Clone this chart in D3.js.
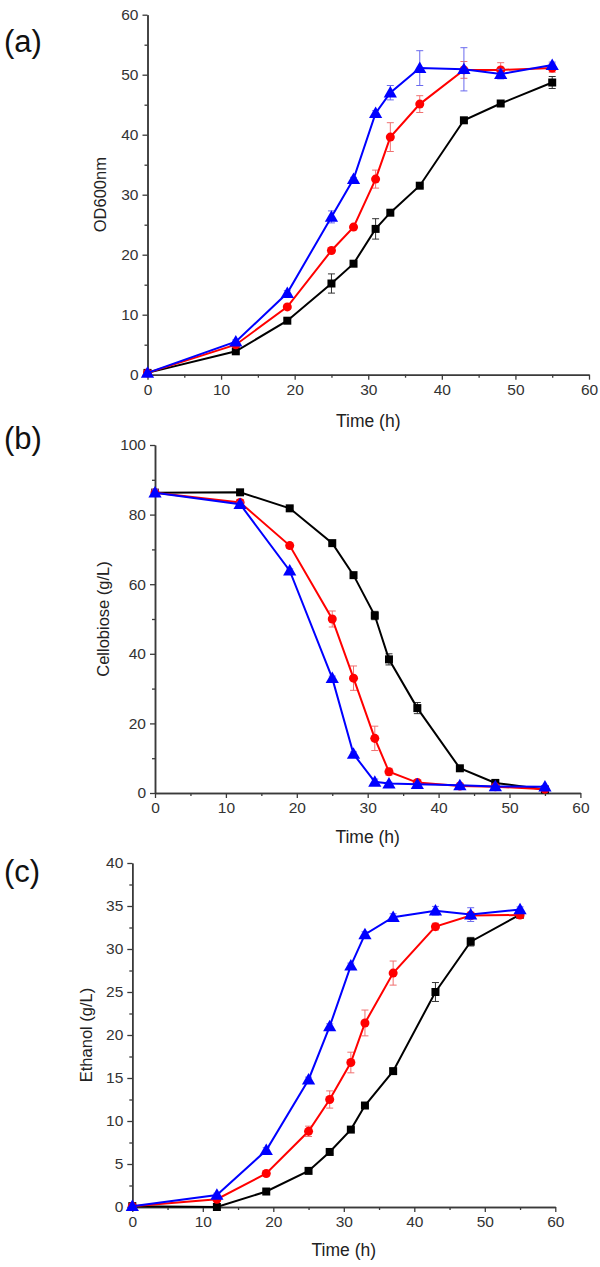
<!DOCTYPE html>
<html>
<head>
<meta charset="utf-8">
<script src="https://cdn.jsdelivr.net/npm/d3@7"></script>
<style>
  html, body { margin: 0; padding: 0; background: #fff; }
  svg { display: block; font-family: Arial, "Liberation Sans", sans-serif; }
</style>
</head>
<body>
<svg id="chart" width="600" height="1267"></svg>
<script>
// ---------- DATA ----------
const time = [0, 12, 19, 25, 28, 31, 33, 37, 43, 48, 55];

// (a) OD600nm
const odBlack    = [0.3, 3.9, 9.0, 15.2, 18.5, 24.3, 27.0, 31.5, 42.4, 45.2, 48.7];
const odBlackErr = [0.1, 0.3, 0.3, 1.6, 0.4, 1.7, 0.4, 0.3, 0.4, 0.3, 1.0];
const odRed      = [0.3, 5.0, 11.3, 20.7, 24.6, 32.6, 39.6, 45.1, 50.8, 50.8, 51.1];
const odRedErr   = [0.1, 0.3, 0.4, 0.4, 0.4, 1.5, 2.4, 1.4, 1.4, 1.2, 0.7];
const odBlue     = [0.3, 5.5, 13.6, 26.3, 32.6, 43.6, 47.0, 51.1, 50.9, 50.1, 51.6];
const odBlueErr  = [0.1, 0.3, 0.4, 1.0, 0.3, 0.4, 1.2, 2.9, 3.6, 0.8, 0.5];

// (b) Cellobiose (g/L)
const cbBlack    = [86.3, 86.4, 81.8, 71.8, 62.6, 51.0, 38.4, 24.4, 7.1, 2.9, 1.0];
const cbBlackErr = [0.5, 0.5, 0.5, 0.5, 0.6, 1.2, 1.6, 1.6, 0.5, 0.4, 0.4];
const cbRed      = [86.3, 83.5, 71.1, 50.0, 33.0, 15.7, 6.1, 3.0, 2.0, 1.8, 1.1];
const cbRedErr   = [0.8, 0.8, 0.8, 2.3, 3.5, 3.5, 1.0, 0.5, 0.5, 0.4, 0.4];
const cbBlue     = [86.3, 83.0, 63.9, 33.0, 11.2, 3.2, 2.7, 2.5, 2.2, 1.9, 1.8];
const cbBlueErr  = [0.8, 0.6, 0.5, 0.6, 0.6, 0.8, 0.4, 0.4, 0.4, 0.3, 0.3];

// (c) Ethanol (g/L)
const etBlack    = [0.1, 0.0, 1.8, 4.2, 6.4, 9.0, 11.8, 15.8, 25.0, 30.85, 34.0];
const etBlackErr = [0.05, 0.1, 0.1, 0.2, 0.2, 0.2, 0.2, 0.3, 1.1, 0.5, 0.3];
const etRed      = [0.1, 0.9, 3.9, 8.8, 12.5, 16.8, 21.4, 27.2, 32.6, 33.9, 33.95];
const etRedErr   = [0.05, 0.2, 0.3, 0.6, 1.0, 1.2, 1.5, 1.4, 0.4, 0.4, 0.3];
const etBlue     = [0.1, 1.4, 6.6, 14.8, 21.0, 28.06, 31.7, 33.7, 34.45, 34.0, 34.6];
const etBlueErr  = [0.05, 0.2, 0.3, 0.3, 0.3, 0.3, 0.3, 0.4, 0.5, 0.8, 0.3];

const xTicks = [0, 10, 20, 30, 40, 50, 60];
const yTicksA = [0, 10, 20, 30, 40, 50, 60];
const yTicksB = [0, 20, 40, 60, 80, 100];
const yTicksC = [0, 5, 10, 15, 20, 25, 30, 35, 40];

const panelLabels = ["(a)", "(b)", "(c)"];
const yTitles = ["OD600nm", "Cellobiose (g/L)", "Ethanol (g/L)"];
const xTitle = "Time (h)";

// ---------- LAYOUT ----------
const panels = [
  { label: panelLabels[0], yTitle: yTitles[0], x0: 147.5, x1: 589, yTop: 14.7, yBot: 374.7,
    yMax: 60, yTicks: yTicksA, yMinorStep: 5, labelY: 52, yTitleX: 106, xTitleY: 427,
    series: [[odBlack, odBlackErr], [odRed, odRedErr], [odBlue, odBlueErr]] },
  { label: panelLabels[1], yTitle: yTitles[1], x0: 155, x1: 580.4, yTop: 445, yBot: 793,
    yMax: 100, yTicks: yTicksB, yMinorStep: 10, labelY: 449, yTitleX: 109, xTitleY: 843,
    series: [[cbBlack, cbBlackErr], [cbRed, cbRedErr], [cbBlue, cbBlueErr]] },
  { label: panelLabels[2], yTitle: yTitles[2], x0: 132.3, x1: 555.3, yTop: 863, yBot: 1207,
    yMax: 40, yTicks: yTicksC, yMinorStep: 2.5, labelY: 882, yTitleX: 92, xTitleY: 1256,
    series: [[etBlack, etBlackErr], [etRed, etRedErr], [etBlue, etBlueErr]] }
];

const colors = ["#000000", "#ff0000", "#0000ff"];
const errColors = ["#333333", "#f07070", "#6a6aee"];
const shapes = [d3.symbolSquare, d3.symbolCircle, d3.symbolTriangle];
const symSizes = [64, 64, 76];
const axisColor = "#3a3a3a";
const textColor = "#333333";

const svg = d3.select("#chart");

panels.forEach(p => {
  const g = svg.append("g");
  const x = d3.scaleLinear().domain([0, 60]).range([p.x0, p.x1]);
  const y = d3.scaleLinear().domain([0, p.yMax]).range([p.yBot, p.yTop]);

  // panel label
  svg.append("text").attr("x", 4).attr("y", p.labelY)
    .attr("font-size", 31).attr("fill", "#111").text(p.label);

  // minor ticks
  const xMinor = d3.range(5, 60, 10);
  const yMinor = d3.range(p.yMinorStep, p.yMax, p.yMinorStep).filter(v => !p.yTicks.includes(v));

  const xAxis = d3.axisBottom(x).tickValues(xTicks).tickSize(5).tickPadding(4).tickSizeOuter(0);
  const xAxisMinor = d3.axisBottom(x).tickValues(xMinor).tickSize(3).tickFormat("").tickSizeOuter(0);
  const yAxis = d3.axisLeft(y).tickValues(p.yTicks).tickSize(5).tickPadding(4).tickSizeOuter(0);
  const yAxisMinor = d3.axisLeft(y).tickValues(yMinor).tickSize(3).tickFormat("").tickSizeOuter(0);

  const styleAxis = sel => {
    sel.selectAll("path").attr("stroke", axisColor).attr("stroke-width", 1.5);
    sel.selectAll("line").attr("stroke", axisColor).attr("stroke-width", 1.3);
    sel.selectAll("text").attr("fill", textColor).attr("font-size", 15.5)
      .attr("font-family", "Arial, 'Liberation Sans', sans-serif");
  };

  g.append("g").attr("transform", `translate(0,${p.yBot})`).call(xAxisMinor).call(styleAxis);
  g.append("g").attr("transform", `translate(0,${p.yBot})`).call(xAxis).call(styleAxis);
  g.append("g").attr("transform", `translate(${p.x0},0)`).call(yAxisMinor).call(styleAxis);
  g.append("g").attr("transform", `translate(${p.x0},0)`).call(yAxis).call(styleAxis);

  // axis titles
  g.append("text").attr("x", (p.x0 + p.x1) / 2).attr("y", p.xTitleY)
    .attr("text-anchor", "middle").attr("font-size", 17.5).attr("fill", "#222").text(xTitle);
  g.append("text").attr("transform", `translate(${p.yTitleX},${(p.yTop + p.yBot) / 2}) rotate(-90)`)
    .attr("text-anchor", "middle").attr("font-size", 16.5).attr("fill", "#222").text(p.yTitle);

  const line = d3.line().x((d, i) => x(time[i])).y(d => y(d));

  p.series.forEach(([vals, errs], si) => {
    const sg = g.append("g");
    // error bars
    vals.forEach((v, i) => {
      const cx = x(time[i]);
      const yl = y(v - errs[i]), yh = y(v + errs[i]);
      sg.append("line").attr("x1", cx).attr("x2", cx).attr("y1", yl).attr("y2", yh)
        .attr("stroke", errColors[si]).attr("stroke-width", 1);
      [yl, yh].forEach(yy => sg.append("line").attr("x1", cx - 3.5).attr("x2", cx + 3.5)
        .attr("y1", yy).attr("y2", yy).attr("stroke", errColors[si]).attr("stroke-width", 1));
    });
    sg.append("path").datum(vals).attr("d", line)
      .attr("fill", "none").attr("stroke", colors[si]).attr("stroke-width", 2);
    sg.selectAll("path.m").data(vals).enter().append("path").attr("class", "m")
      .attr("transform", (d, i) => `translate(${x(time[i])},${y(d) + (si === 2 ? 1 : 0)})`)
      .attr("d", d3.symbol().type(shapes[si]).size(symSizes[si]))
      .attr("fill", colors[si]);
  });
});
</script>
</body>
</html>
